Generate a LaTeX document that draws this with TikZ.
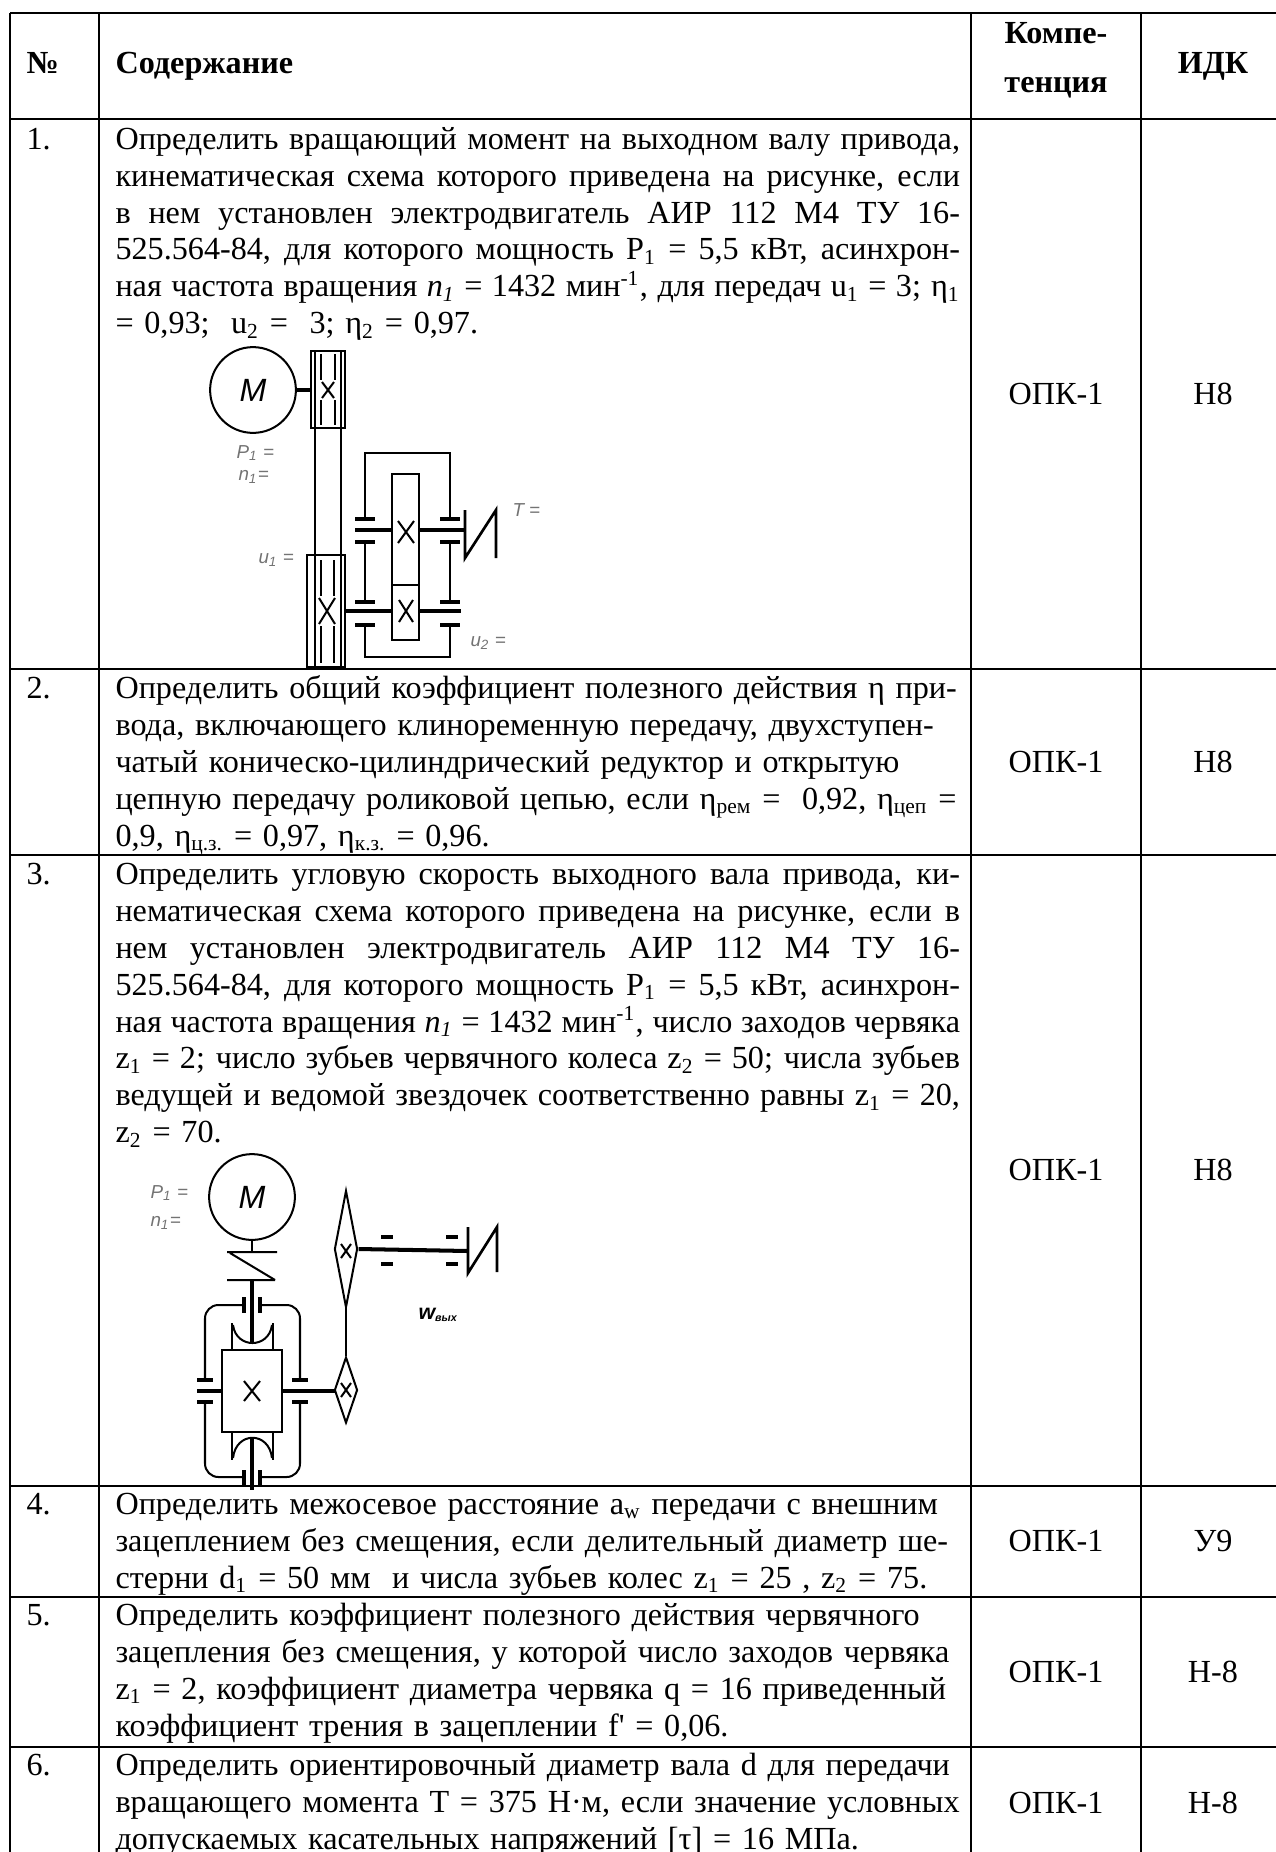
\documentclass[tikz,border=0pt]{standalone}
\usepackage{fontspec}
\setmainfont{Liberation Serif}
\setsansfont{Liberation Sans}
\usetikzlibrary{shapes.geometric,positioning}

\newcommand\fl[1]{\makebox[315pt][s]{\spaceskip=0.25em plus 1em minus 0.1em\relax #1}}
\newcommand\lo[1]{\textsubscript{#1}}
\newcommand\gearx[4]{\draw[part] (#1-#3,#2-#4) -- (#1+#3,#2+#4) (#1-#3,#2+#4) -- (#1+#3,#2-#4);}

\tikzset{
  tbl/.style={line width=1pt},
  part/.style={line width=0.75pt},
  shaft/.style={line width=1.5pt},
  head/.style={anchor=base, inner sep=0pt, font=\bfseries\fontsize{12}{12}\selectfont},
  num/.style={anchor=base west, inner sep=0pt, font=\fontsize{12}{12}\selectfont},
  cell/.style={anchor=base west, inner sep=0pt, text width=340pt, align=left,
    font=\fontsize{12}{13.8}\selectfont},
  mid/.style={anchor=center, inner sep=0pt, font=\fontsize{12}{12}\selectfont},
  lbl/.style={inner sep=0pt, text=black!55, font=\sffamily\itshape\fontsize{7}{7}\selectfont},
  motor/.style={draw, circle, line width=0.75pt, minimum size=32pt, inner sep=0pt,
    font=\sffamily\itshape\fontsize{12}{12}\selectfont},
  sprk/.style={draw, diamond, line width=0.75pt, inner sep=0pt, minimum width=8.6pt}
}

\begin{document}
\begin{tikzpicture}[x=0.373pt, y=-0.373pt]
\useasboundingbox[fill=white] (0,0) rectangle (1276,1852);

% table
\draw[tbl] (10,13) -- (1290,13);
\foreach \y in {119,669,855,1486,1597,1747,1859}
  \draw[tbl] (10,\y) -- (1290,\y);
\foreach \x in {10,99,971,1141,1285}
  \draw[tbl] (\x,13) -- (\x,1859);

\node[head, anchor=base west] (h-num) at (26,73) {№};
\node[head, anchor=base west] (h-txt) at (115,73) {Содержание};
\node[head] (h-comp) at (1056,43) {Компе-};
\node[head] (h-comp2) at (1056,92) {тенция};
\node[head] (h-idk) at (1213,73) {ИДК};

% row 1
\node[num] (n1) at (26,149) {1.};
\node[cell] (t1) at (115,149) {%
\fl{Определить вращающий момент на выходном валу привода,}\\
\fl{кинематическая схема которого приведена на рисунке, если}\\
\fl{в нем установлен электродвигатель АИР 112 М4 ТУ 16-}\\
\fl{525.564-84, для которого мощность P\lo{1} = 5,5 кВт, асинхрон-}\\
\fl{ная частота вращения \textit{n\lo{1}} = 1432 мин\textsuperscript{-1}, для передач u\lo{1} = 3; η\lo{1}}\\
= 0,93;\ \ u\lo{2} =\ \ 3; η\lo{2} = 0,97.};
\node[mid] (c1) at (1056,394) {ОПК-1};
\node[mid] (i1) at (1213,394) {Н8};

\node[motor] (m1) at (253,390) {M};
\coordinate (p1) at (311,390);
\draw[shaft] (m1.east) -- (p1);
\draw[part] (311,351) rectangle (345,428);
\draw[part] (307,555) rectangle (345,667);
\draw[part] (315,351) -- (315,667) (341,351) -- (341,667);
\draw[part] (321,354) -- (321,380) (335,354) -- (335,380)
            (321,400) -- (321,425) (335,400) -- (335,425);
\draw[part] (321,560) -- (321,596) (334,560) -- (334,596)
            (321,626) -- (321,663) (334,626) -- (334,663);
\gearx{328}{390}{6}{8}
\gearx{327}{611}{8}{13}
\draw[part] (365,519) |- (450,453) -- (450,519);
\draw[part] (365,625) |- (450,657) -- (450,625);
\draw[part] (365,542) -- (365,602) (450,542) -- (450,602);
\foreach \x in {365,450}
  \foreach \y in {519,542,602,625}
    \draw[shaft] (\x-10,\y) -- (\x+10,\y);
\draw[part] (392,474) rectangle (419,585);
\draw[part] (392,585) rectangle (419,640);
\gearx{406}{532}{8}{11}
\gearx{406}{611}{7}{11}
\draw[shaft] (355,530) -- (392,530) (419,530) -- (465,530);
\draw[shaft] (345,611) -- (392,611) (419,611) -- (461,611);
\draw[line width=1pt] (465,510) -- (465,558) -- (496,510) -- (496,558);
\node[lbl, anchor=west] (lt) at (512,510) {T =};
\node[lbl, anchor=west] (lu2) at (470,643) {u\lo{2} =};
\node[lbl, anchor=west] (lp1) at (236,453) {P\lo{1} =};
\node[lbl, anchor=west] (ln1) at (238,477) {n\lo{1}=};
\node[lbl, anchor=west] (lu1) at (258,560) {u\lo{1} =};

% row 2
\node[num] (n2) at (26,698) {2.};
\node[cell] (t2) at (115,698) {%
Определить общий коэффициент полезного действия η при-\\
вода, включающего клиноременную передачу, двухступен-\\
чатый коническо-цилиндрический редуктор и открытую\\
цепную передачу роликовой цепью, если η\lo{рем} =\ \ 0,92, η\lo{цеп} =\\
0,9, η\lo{ц.з.} = 0,97, η\lo{к.з.} = 0,96.};
\node[mid] (c2) at (1056,762) {ОПК-1};
\node[mid] (i2) at (1213,762) {Н8};

% row 3
\node[num] (n3) at (26,884) {3.};
\node[cell] (t3) at (115,884) {%
\fl{Определить угловую скорость выходного вала привода, ки-}\\
\fl{нематическая схема которого приведена на рисунке, если в}\\
\fl{нем установлен электродвигатель АИР 112 М4 ТУ 16-}\\
\fl{525.564-84, для которого мощность P\lo{1} = 5,5 кВт, асинхрон-}\\
\fl{ная частота вращения \textit{n\lo{1}} = 1432 мин\textsuperscript{-1}, число заходов червяка}\\
\fl{z\lo{1} = 2; число зубьев червячного колеса z\lo{2} = 50; числа зубьев}\\
\fl{ведущей и ведомой звездочек соответственно равны z\lo{1} = 20,}\\
z\lo{2} = 70.};
\node[mid] (c3) at (1056,1170) {ОПК-1};
\node[mid] (i3) at (1213,1170) {Н8};

\node[motor] (m3) at (252,1197) {M};
\draw[part] (m3.south) -- (252,1252);
\draw[part] (227,1252) -- (277,1252) (230,1253) -- (275,1280) (227,1280) -- (275,1280);
\draw[shaft] (252,1280) -- (252,1343) (252,1437) -- (252,1490);
\draw[part] (232,1323) -- (232,1350) (273,1323) -- (273,1350)
            (232,1432) -- (232,1460) (273,1432) -- (273,1460);
\draw[part] (233,1325) .. controls (236,1349) and (269,1349) .. (272,1325);
\draw[part] (233,1458) .. controls (236,1431) and (269,1431) .. (272,1458);
\draw[part] (222,1350) rectangle (282,1432);
\gearx{252}{1391}{8}{10}
\draw[part, rounded corners=5] (244,1305) -| (205,1380);
\draw[part, rounded corners=5] (260,1305) -| (300,1380);
\draw[part, rounded corners=5] (205,1402) |- (244,1477);
\draw[part, rounded corners=5] (300,1402) |- (260,1477);
\draw[shaft] (244,1297) -- (244,1313) (260,1297) -- (260,1313)
             (244,1470) -- (244,1486) (260,1470) -- (260,1486)
             (197,1380) -- (213,1380) (197,1402) -- (213,1402)
             (292,1380) -- (308,1380) (292,1402) -- (308,1402);
\draw[shaft] (197,1391) -- (222,1391) (282,1391) -- (335,1391);
\node[sprk, minimum height=43.6pt] (s1) at (346,1249) {};
\node[sprk, minimum height=24.6pt] (s2) at (346,1390) {};
\gearx{346}{1251}{5}{7}
\gearx{346}{1390}{5}{7}
\draw[part] (s1.south) -- (s2.north);
\coordinate (cp3) at (468,1251);
\draw[shaft] (s1.east) -- (cp3);
\foreach \x in {387,452}
  \draw[shaft] (\x-6,1237) -- (\x+6,1237) (\x-6,1264) -- (\x+6,1264);
\draw[line width=1pt] (468,1227) -- (468,1273) -- (497,1227) -- (497,1272);
\node[lbl, anchor=west] (lp3) at (150,1193) {P\lo{1} =};
\node[lbl, anchor=west] (ln3) at (150,1223) {n\lo{1}=};
\node[lbl, anchor=west, text=black, font=\sffamily\bfseries\itshape\fontsize{8}{8}\selectfont] (lw) at (418,1315) {w\lo{\fontsize{4}{4}\selectfont вых}};

% row 4
\node[num] (n4) at (26,1514) {4.};
\node[cell] (t4) at (115,1514) {%
Определить межосевое расстояние a\lo{w} передачи с внешним\\
зацеплением без смещения, если делительный диаметр ше-\\
стерни d\lo{1} = 50 мм\ \ и числа зубьев колес z\lo{1} = 25 , z\lo{2} = 75.};
\node[mid] (c4) at (1056,1541) {ОПК-1};
\node[mid] (i4) at (1213,1541) {У9};

% row 5
\node[num] (n5) at (26,1625) {5.};
\node[cell] (t5) at (115,1625) {%
Определить коэффициент полезного действия червячного\\
зацепления без смещения, у которой число заходов червяка\\
z\lo{1} = 2, коэффициент диаметра червяка q = 16 приведенный\\
коэффициент трения в зацеплении f\textquotesingle{} = 0,06.};
\node[mid] (c5) at (1056,1672) {ОПК-1};
\node[mid] (i5) at (1213,1672) {Н-8};

% row 6
\node[num] (n6) at (26,1775) {6.};
\node[cell] (t6) at (115,1775) {%
Определить ориентировочный диаметр вала d для передачи\\
вращающего момента T = 375 Н·м, если значение условных\\
допускаемых касательных напряжений [τ] = 16 МПа.};
\node[mid] (c6) at (1056,1803) {ОПК-1};
\node[mid] (i6) at (1213,1803) {Н-8};
\end{tikzpicture}
\end{document}
